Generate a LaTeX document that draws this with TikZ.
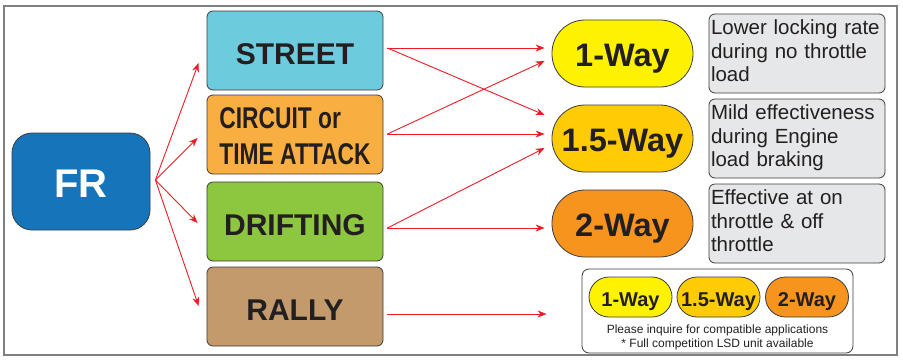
\documentclass[tikz,border=0pt]{standalone}
\usepackage{fontspec}
\setmainfont{Liberation Sans}
\usetikzlibrary{arrows.meta,calc}
\definecolor{frblue}{HTML}{1674BB}
\definecolor{cstreet}{HTML}{6CCBDD}
\definecolor{ccircuit}{HTML}{F8AE41}
\definecolor{cdrift}{HTML}{8DC63F}
\definecolor{crally}{HTML}{C29A6C}
\definecolor{wone}{HTML}{FFF200}
\definecolor{wonefive}{HTML}{FFCB05}
\definecolor{wtwo}{HTML}{F7941E}
\definecolor{descgray}{HTML}{E6E7E8}
\definecolor{bordergray}{HTML}{3C3C3C}
\definecolor{txt}{HTML}{231F20}
\definecolor{framegray}{HTML}{808080}
\definecolor{arrred}{HTML}{ED1C24}
\tikzset{
  box/.style={draw=bordergray, line width=0.8pt, text=txt, inner sep=0pt},
  catbox/.style={box, rounded corners=6pt, minimum width=176pt, minimum height=79pt,
    font=\fontsize{30}{36}\selectfont\bfseries},
  catone/.style={catbox, text height=27pt, text depth=0pt},
  waybig/.style={box, rounded corners=33pt, minimum width=141pt, minimum height=67pt,
    font=\fontsize{32.5}{36}\selectfont\bfseries, text height=25.5pt, text depth=0pt},
  waysmall/.style={box, rounded corners=20pt, minimum width=83pt, minimum height=40pt,
    font=\fontsize{20}{24}\selectfont\bfseries, text height=18pt, text depth=0pt},
  descbox/.style={box, fill=descgray, rounded corners=6pt, minimum width=176pt, minimum height=79pt,
    text width=172pt, inner xsep=2pt, align=left, text depth=52pt,
    font=\fontsize{20.5}{23.5}\selectfont},
  notetext/.style={text=txt, font=\fontsize{12}{14}\selectfont, inner sep=0pt, anchor=base},
  arr/.style={draw=arrred, line width=0.9pt, -{Stealth[length=9pt,width=7pt]}},
}
\begin{document}
\begin{tikzpicture}[x=1pt,y=-1pt]
\useasboundingbox (0,0) rectangle (903,360);
\node[draw=framegray, line width=2pt, minimum width=893pt, minimum height=349pt, inner sep=0pt] (frame) at (450.5,180.5) {};

\node[box, fill=frblue, rounded corners=20pt, minimum width=138pt, minimum height=97pt,
  text=white, font=\fontsize{40}{44}\selectfont\bfseries, text height=31.5pt, text depth=0pt] (FR) at (81,181.5) {FR};

\node[catone, fill=cstreet] (street) at (295,50.5) {STREET};
\node[catbox, fill=ccircuit, align=left, text height=60pt, text depth=0pt] (circuit) at (295,134.5)
  {\scalebox{0.76}[1]{CIRCUIT or}\\\scalebox{0.76}[1]{TIME ATTACK}};
\node[catone, fill=cdrift] (drift) at (295,221.5) {DRIFTING};
\node[catone, fill=crally] (rally) at (295,306.5) {RALLY};

\node[waybig, fill=wone] (w1) at (622.5,53.5) {1-Way};
\node[waybig, fill=wonefive] (w15) at (622.5,138.5) {1.5-Way};
\node[waybig, fill=wtwo] (w2) at (622.5,223.5) {2-Way};

\node[descbox] (d1) at (797,53.5) {Lower locking rate\\during no throttle\\load};
\node[descbox] (d2) at (797,138.5) {Mild effectiveness\\during Engine\\load braking};
\node[descbox] (d3) at (797,223.5) {Effective at on\\throttle \& off\\throttle};

\node[box, rounded corners=7pt, minimum width=271pt, minimum height=84pt] (bottom) at (717.5,311) {};
\node[waysmall, fill=wone] (s1) at (630.5,297) {1-Way};
\node[waysmall, fill=wonefive] (s15) at (718.5,297) {1.5-Way};
\node[waysmall, fill=wtwo] (s2) at (807,297) {2-Way};
\node[notetext] (note1) at (717.5,333) {Please inquire for compatible applications};
\node[notetext] (note2) at (717.5,347) {* Full competition LSD unit available};

\coordinate (frout) at ($(FR.east)+(5,-1.5)$);
\draw[arr] (frout) -- ($(street.west)+(-8,12.5)$);
\draw[arr] (frout) -- ($(circuit.west)+(-9,3.5)$);
\draw[arr] (frout) -- ($(drift.west)+(-9,1.5)$);
\draw[arr] (frout) -- ($(rally.west)+(-8,-0.5)$);

\coordinate (so) at ($(street.east)+(4,-2.5)$);
\coordinate (co) at ($(circuit.east)+(4,-0.5)$);
\coordinate (do) at ($(drift.east)+(4,6.5)$);
\coordinate (ro) at ($(rally.east)+(4,7.5)$);
\draw[arr] (so) -- ($(w1.west)+(-7,-5.5)$);
\draw[arr] (so) -- ($(w15.west)+(-7,-23.5)$);
\draw[arr] (co) -- ($(w1.west)+(-7,7.5)$);
\draw[arr] (co) -- ($(w15.west)+(-7,-4.5)$);
\draw[arr] (do) -- ($(w15.west)+(-7,9.5)$);
\draw[arr] (do) -- ($(w2.west)+(-7,4.5)$);
\draw[arr] (ro) -- ($(bottom.west)+(-35,3)$);
\end{tikzpicture}
\end{document}
